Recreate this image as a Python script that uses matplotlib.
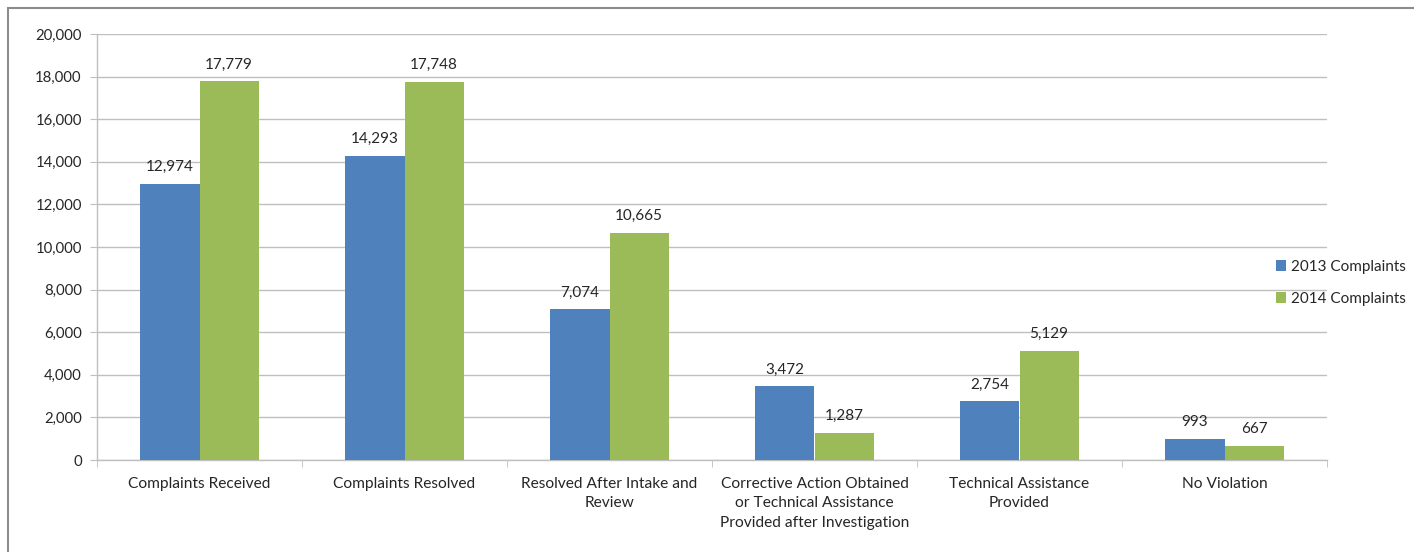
import matplotlib
matplotlib.use("Agg")
import matplotlib.pyplot as plt
import numpy as np
from matplotlib.patches import Rectangle
from matplotlib.ticker import FuncFormatter, FixedLocator

categories = ["Complaints Received", "Complaints Resolved", "Resolved After Intake and\nReview",
              "Corrective Action Obtained\nor Technical Assistance\nProvided after Investigation",
              "Technical Assistance\nProvided", "No Violation"]
series_names = ["2013 Complaints", "2014 Complaints"]
values_2013 = [12974, 14293, 7074, 3472, 2754, 993]
values_2014 = [17779, 17748, 10665, 1287, 5129, 667]

plt.rcParams['font.family'] = ['Lato', 'DejaVu Sans']
W, H = 1414, 552
fig = plt.figure(figsize=(W/100, H/100), dpi=100)
fig.patch.set_facecolor('white')

# outer border
fig.patches.append(Rectangle((8/W, -0.1), 1.2, (H-8)/H + 0.1, transform=fig.transFigure,
                             fill=False, edgecolor='#8c8c8c', linewidth=1.5))

ax = fig.add_axes([97/W, 1-460/H, (1327-97)/W, (460-34)/H])
x = np.arange(len(categories))
bw = 0.288
c13, c14 = '#4F81BD', '#9BBB59'
b1 = ax.bar(x - bw/2, values_2013, bw, color=c13, label=series_names[0], zorder=3)
b2 = ax.bar(x + bw/2, values_2014, bw, color=c14, label=series_names[1], zorder=3)

for bars in (b1, b2):
    for r in bars:
        v = r.get_height()
        ax.text(r.get_x() + r.get_width()/2, v + 450, f"{int(v):,}", ha='center', va='bottom',
                fontsize=11, color='#262626')

ax.set_xlim(-0.5, len(categories) - 0.5)
ax.set_ylim(0, 20000)
ax.set_yticks(np.arange(0, 20001, 2000))
ax.yaxis.set_major_formatter(FuncFormatter(lambda v, p: f"{int(v):,}"))
ax.grid(axis='y', color='#bfbfbf', linewidth=1, zorder=0)
ax.set_axisbelow(True)
for s in ['top', 'right']:
    ax.spines[s].set_visible(False)
for s in ['left', 'bottom']:
    ax.spines[s].set_color('#bfbfbf')
    ax.spines[s].set_linewidth(1)

ax.set_xticks(x)
ax.set_xticklabels(categories, fontsize=11.2, color='#262626', linespacing=1.5)
ax.tick_params(axis='x', length=0, pad=12)
ax.xaxis.set_minor_locator(FixedLocator(np.arange(-0.5, len(categories), 1.0)))
ax.tick_params(axis='x', which='minor', length=5, color='#bfbfbf')
ax.tick_params(axis='y', length=5, color='#bfbfbf', labelsize=10.7, labelcolor='#262626', pad=6)

leg = fig.legend(handles=[b1, b2], labels=series_names, loc='center left',
                 bbox_to_anchor=(1262/W, 1-283/H), frameon=False, fontsize=11,
                 handlelength=0.7, handleheight=0.7, handletextpad=0.3, labelspacing=1.2)
for t in leg.get_texts():
    t.set_color('#262626')

fig.savefig("out.png", dpi=100, facecolor='white')
